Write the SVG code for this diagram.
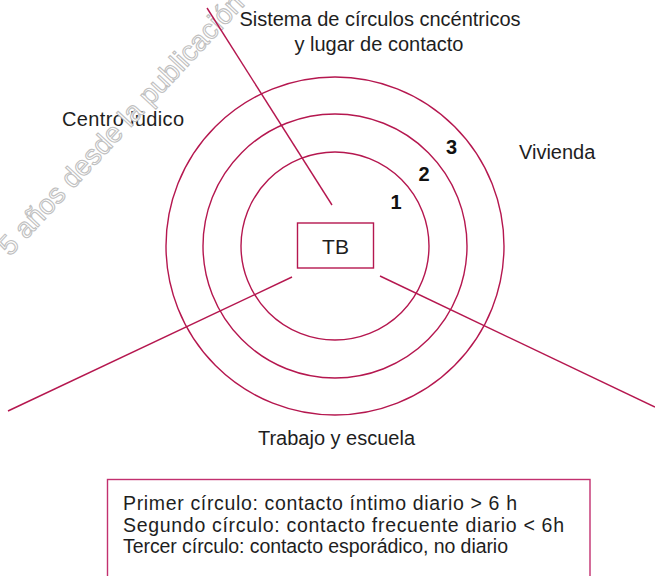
<svg xmlns="http://www.w3.org/2000/svg" width="655" height="576" viewBox="0 0 655 576">
<style>
  .t { font-family: "Liberation Sans", Arial, sans-serif; fill: #1e1e1e; font-size: 20px; }
  .lg { font-family: "Liberation Sans", Arial, sans-serif; fill: #1e1e1e; font-size: 19.5px; }
  .num { font-family: "Liberation Sans", Arial, sans-serif; fill: #111; font-size: 20px; font-weight: bold; text-anchor: middle; }
  .ring { fill: none; stroke: #b5174f; stroke-width: 1.4; }
  .ln { stroke: #b5174f; stroke-width: 1.4; fill: none; }
  .wm { font-family: "Liberation Sans", Arial, sans-serif; font-size: 28px; fill: #ffffff; stroke: #c0c0c0; stroke-width: 1.1; }
</style>
<rect width="655" height="576" fill="#ffffff"/>
<g id="title">
  <text class="t" x="380" y="26" text-anchor="middle">Sistema de círculos cncéntricos</text>
  <text class="t" x="379" y="51" text-anchor="middle">y lugar de contacto</text>
</g>
<g id="label-centro"><text class="t" x="62" y="126" textLength="122">Centro lúdico</text></g>
<g id="label-vivienda"><text class="t" x="519" y="159">Vivienda</text></g>
<g id="label-trabajo"><text class="t" x="336.5" y="445" text-anchor="middle">Trabajo y escuela</text></g>
<text class="wm" x="10" y="257" transform="rotate(-47 10 257)">5 años desde la publicación</text>
<g id="rings">
  <circle id="circle-1" class="ring" cx="335" cy="246" r="94"/>
  <circle id="circle-2" class="ring" cx="335" cy="246" r="132"/>
  <circle id="circle-3" class="ring" cx="335" cy="246" r="169"/>
</g>
<g id="numbers">
  <text class="num" x="396" y="209">1</text>
  <text class="num" x="424" y="181">2</text>
  <text class="num" x="451.5" y="154">3</text>
</g>
<g id="connectors">
  <line class="ln" x1="207" y1="8" x2="332" y2="205"/>
  <line class="ln" x1="8" y1="411" x2="292" y2="277"/>
  <line class="ln" x1="380" y1="276" x2="655" y2="407"/>
</g>
<g id="node-TB">
  <rect x="297.5" y="223" width="76" height="45" fill="#ffffff" stroke="#b5174f" stroke-width="1.4"/>
  <text class="t" style="font-size:21px" x="335.5" y="254" text-anchor="middle">TB</text>
</g>
<g id="legend">
  <rect x="107.5" y="479.5" width="482.5" height="110" fill="none" stroke="#c2306f" stroke-width="1.4"/>
  <text class="lg" x="123" y="510" textLength="394">Primer círculo: contacto íntimo diario &gt; 6 h</text>
  <text class="lg" x="123" y="531.5" textLength="441">Segundo círculo: contacto frecuente diario &lt; 6h</text>
  <text class="lg" x="123" y="553" textLength="385">Tercer círculo: contacto esporádico, no diario</text>
</g>
</svg>
